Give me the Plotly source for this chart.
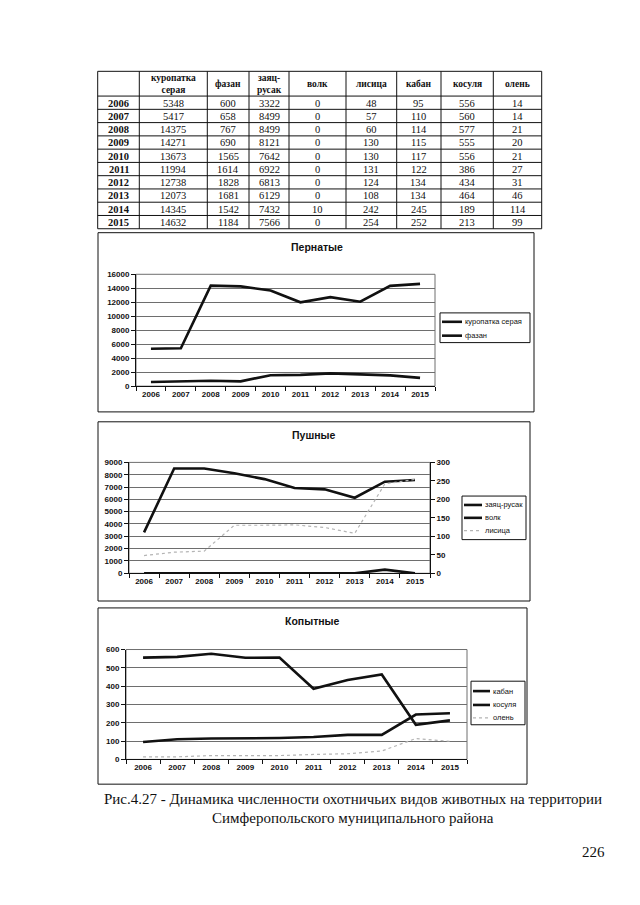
import plotly.graph_objects as go

# ---------------- data ----------------
years = ["2006", "2007", "2008", "2009", "2010", "2011", "2012", "2013", "2014", "2015"]
kuropatka = [5348, 5417, 14375, 14271, 13673, 11994, 12738, 12073, 14345, 14632]
fazan = [600, 658, 767, 690, 1565, 1614, 1828, 1681, 1542, 1184]
zayats = [3322, 8499, 8499, 8121, 7642, 6922, 6813, 6129, 7432, 7566]
volk = [0, 0, 0, 0, 0, 0, 0, 0, 10, 0]
lisitsa = [48, 57, 60, 130, 130, 131, 124, 108, 242, 254]
kaban = [95, 110, 114, 115, 117, 122, 134, 134, 245, 252]
kosulya = [556, 560, 577, 555, 556, 386, 434, 464, 189, 213]
olen = [14, 14, 21, 20, 21, 27, 31, 46, 114, 99]

table_headers = ["", "куропатка<br>серая", "фазан", "заяц-<br>русак", "волк",
                 "лисица", "кабан", "косуля", "олень"]
table_columns = [kuropatka, fazan, zayats, volk, lisitsa, kaban, kosulya, olen]

titles = ["Пернатые", "Пушные", "Копытные"]
caption_1 = "Рис.4.27 - Динамика численности охотничьих видов животных на территории"
caption_2 = "Симферопольского муниципального района"
page_number = "226"

# ---------------- layout constants (page pixels) ----------------
W, H = 640, 905
SERIF = "Liberation Serif"
SANS = "Liberation Sans"
BLACK = "#111111"
GRID = "#6e6e6e"
LIGHT = "#b4b4b4"


def fx(x):
    return x / W


def fy(y):
    return 1 - y / H


col_edges = [97.7, 139.3, 207.3, 249, 289, 346, 396.7, 441, 493.3, 541.7]
table_top, table_bottom = 68, 227
header_h = 25
row_h = (table_bottom - table_top - header_h) / len(years)

boxes = [(98, 231, 534, 412), (98, 422, 530, 603), (98, 610, 527, 788)]
plots = [(136, 273, 435, 386), (129, 463, 430, 575), (126, 652, 467, 763)]
title_pos = [(317, 245), (313, 435), (312, 623)]

shapes = []
annotations = []


def text(t, x, y, size, family=SANS, xanchor="center", color=BLACK):
    annotations.append(dict(text=t, x=fx(x), y=fy(y), xref="paper", yref="paper",
                            xanchor=xanchor, yanchor="middle", showarrow=False,
                            font=dict(family=family, size=size, color=color)))


# ---------------- table (lines + text) ----------------
row_edges = [table_top, table_top + header_h] + [table_top + header_h + (r + 1) * row_h
                                                 for r in range(len(years))]
for yy in row_edges:
    shapes.append(dict(type="line", xref="paper", yref="paper", x0=fx(col_edges[0]),
                       x1=fx(col_edges[-1]), y0=fy(yy), y1=fy(yy),
                       line=dict(color=BLACK, width=1)))
for xx in col_edges:
    shapes.append(dict(type="line", xref="paper", yref="paper", x0=fx(xx), x1=fx(xx),
                       y0=fy(table_top), y1=fy(table_bottom),
                       line=dict(color=BLACK, width=1)))
col_centers = [(col_edges[i] + col_edges[i + 1]) / 2 for i in range(len(col_edges) - 1)]
for c, h in enumerate(table_headers):
    if h:
        text("<b>%s</b>" % h, col_centers[c], table_top + header_h / 2 + 0.5, 9.5, SERIF)
for r, yr in enumerate(years):
    cy = table_top + header_h + (r + 0.5) * row_h + 0.3
    text("<b>%s</b>" % yr, col_centers[0], cy, 10.5, SERIF)
    for c, col in enumerate(table_columns):
        text(str(col[r]), col_centers[c + 1], cy, 10.5, SERIF)

# ---------------- charts ----------------
fig = go.Figure()


def line(x, y, xa, ya, color=BLACK, width=2.6, dash="solid", name=""):
    return go.Scatter(x=x, y=y, xaxis=xa, yaxis=ya, mode="lines", name=name,
                      line=dict(color=color, width=width, dash=dash), showlegend=False,
                      hoverinfo="skip")


fig.add_trace(line(years, kuropatka, "x", "y", name="куропатка серая"))
fig.add_trace(line(years, fazan, "x", "y", name="фазан"))
fig.add_trace(line(years, zayats, "x2", "y2", name="заяц-русак"))
fig.add_trace(line(years, lisitsa, "x2", "y3", color=LIGHT, width=1.2, dash="dot", name="лисица"))
fig.add_trace(line(years, volk, "x2", "y3", name="волк"))
fig.add_trace(line(years, olen, "x3", "y4", color=LIGHT, width=1.2, dash="dot", name="олень"))
fig.add_trace(line(years, kosulya, "x3", "y4", name="косуля"))
fig.add_trace(line(years, kaban, "x3", "y4", name="кабан"))

tickfont = dict(family=SANS, size=8, color=BLACK, weight="bold")


def xaxis(i, anchor):
    x0, y0, x1, y1 = plots[i]
    return dict(domain=[fx(x0), fx(x1)], anchor=anchor, type="category",
                range=[-0.5, len(years) - 0.5], ticks="outside", tickson="boundaries",
                ticklen=4, tickcolor=BLACK, showline=True, linecolor=BLACK, linewidth=1,
                showgrid=False, tickfont=tickfont, fixedrange=True)


def yaxis(i, anchor, rng, dtick, side="left", grid=True, overlaying=None):
    x0, y0, x1, y1 = plots[i]
    d = dict(domain=[fy(y1), fy(y0)], anchor=anchor, range=rng, dtick=dtick, side=side,
             tickformat="d", ticks="outside", ticklen=4, tickcolor=BLACK, showline=True,
             linecolor=BLACK, linewidth=1, showgrid=grid, gridcolor=GRID, gridwidth=1,
             zeroline=False, tickfont=tickfont, fixedrange=True)
    if overlaying:
        d.pop("domain")
        d["overlaying"] = overlaying
    return d


for i, (x0, y0, x1, y1) in enumerate(boxes):
    shapes.append(dict(type="rect", xref="paper", yref="paper", x0=fx(x0), x1=fx(x1),
                       y0=fy(y1), y1=fy(y0), line=dict(color=BLACK, width=1), layer="below"))
    tx, ty = title_pos[i]
    text("<b>%s</b>" % titles[i], tx, ty, 10.5)

for xa, ya in [("x", "y"), ("x2", "y2"), ("x3", "y4")]:
    shapes.append(dict(type="rect", xref=xa + " domain", yref=ya + " domain", x0=0, x1=1,
                       y0=0, y1=1, line=dict(color=GRID, width=1), layer="below"))

# legends: box, sample line x-range, items (label, color, width, dash, y)
legends = [
    ((440, 312, 530, 342), 442, 462, [("куропатка серая", BLACK, 2.6, "solid", 321),
                                      ("фазан", BLACK, 2.6, "solid", 335)]),
    ((462, 497, 526, 541), 464, 482, [("заяц-русак", BLACK, 2.6, "solid", 506),
                                      ("волк", BLACK, 2.6, "solid", 519),
                                      ("лисица", LIGHT, 1.2, "dot", 532)]),
    ((471, 684, 525, 728), 473, 490, [("кабан", BLACK, 2.6, "solid", 694),
                                      ("косуля", BLACK, 2.6, "solid", 708),
                                      ("олень", LIGHT, 1.2, "dot", 721)]),
]
for (bx0, by0, bx1, by1), lx0, lx1, items in legends:
    shapes.append(dict(type="rect", xref="paper", yref="paper", x0=fx(bx0), x1=fx(bx1),
                       y0=fy(by1), y1=fy(by0), line=dict(color=BLACK, width=1),
                       fillcolor="white"))
    for label, color, width, dash, yy in items:
        shapes.append(dict(type="line", xref="paper", yref="paper", x0=fx(lx0), x1=fx(lx1),
                           y0=fy(yy), y1=fy(yy), line=dict(color=color, width=width, dash=dash)))
        text(label, lx1 + 0.5, yy, 7.5, xanchor="left")

text(caption_1, 353, 803, 15, SERIF)
text(caption_2, 353, 822, 15, SERIF)
text(page_number, 607, 857, 15, SERIF, xanchor="right")

fig.update_layout(
    width=W, height=H, margin=dict(l=0, r=0, t=0, b=0), autosize=False,
    paper_bgcolor="white", plot_bgcolor="white", showlegend=False,
    xaxis=xaxis(0, "y"), yaxis=yaxis(0, "x", [0, 16000], 2000),
    xaxis2=xaxis(1, "y2"), yaxis2=yaxis(1, "x2", [0, 9000], 1000),
    yaxis3=yaxis(1, "x2", [0, 300], 50, side="right", grid=False, overlaying="y2"),
    xaxis3=xaxis(2, "y4"), yaxis4=yaxis(2, "x3", [0, 600], 100),
    shapes=shapes, annotations=annotations,
)

fig.write_html("out.html", config={"displayModeBar": False},
               post_script="document.body.style.margin='0';")
